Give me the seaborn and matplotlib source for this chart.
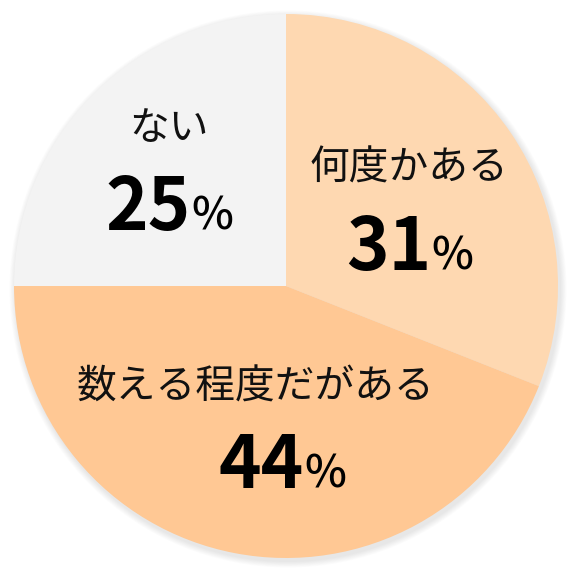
import matplotlib
matplotlib.use("Agg")
import matplotlib.pyplot as plt
from matplotlib.patches import Circle
import seaborn as sns

# Données du graphique
labels = ["何度かある", "数える程度だがある", "ない"]
values = [31, 44, 25]
colors = ["#FED8B1", "#FFC894", "#F3F3F3"]

sns.set_theme(style="white")
plt.rcParams["font.family"] = ["Noto Sans CJK JP", "DejaVu Sans"]

fig = plt.figure(figsize=(5.84, 5.84), dpi=100)
ax = fig.add_axes([0, 0, 1, 1])

cx, cy, r = 286, 298, 272

# Ombre légère autour du camembert
for k in range(8):
    ax.add_patch(Circle((cx + 2, cy - 3), r + 1 + k * 0.8,
                        color="black", alpha=0.012, lw=0, zorder=0))

ax.pie(values, colors=colors, startangle=90, counterclock=False,
       center=(cx, cy), radius=r, frame=True,
       wedgeprops=dict(linewidth=0), normalize=True)
ax.set_xlim(0, 584)
ax.set_ylim(0, 584)
ax.set_aspect("equal")
ax.axis("off")

# Étiquettes : (x du libellé, y du libellé, x de séparation nombre/%, ligne de base du nombre)
pos = [(409, 169, 431, 270), (255, 388, 304, 488), (169, 129, 191, 230)]
for lab, val, (lx, ly, sx, by) in zip(labels, values, pos):
    ax.text(lx, 584 - ly, lab, ha="center", va="center", fontsize=28.6, color="#111111")
    ax.text(sx, 584 - by, str(val), ha="right", va="baseline",
            fontsize=52, fontweight="bold", color="black")
    ax.text(sx + 0.5, 584 - by, "%", ha="left", va="baseline",
            fontsize=32, fontweight="medium", color="black")

fig.savefig("out.png", dpi=100)
